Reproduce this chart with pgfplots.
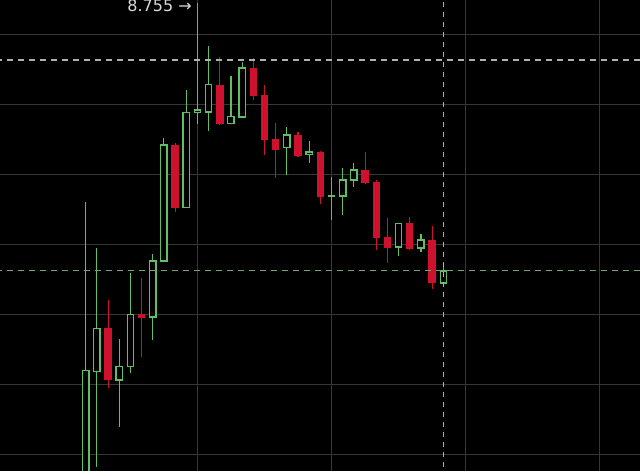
\documentclass[border=0pt]{standalone}
\usepackage{pgfplots}
\pgfplotsset{compat=1.18}
\usepackage{pgfplotstable}
\usepackage{fontspec}
\setmainfont{DejaVu Sans}

\definecolor{bull}{RGB}{98,190,100}
\definecolor{bear}{RGB}{206,18,46}
\definecolor{gridgray}{RGB}{54,54,54}
\definecolor{crossgray}{RGB}{175,175,175}
\definecolor{lastgreen}{RGB}{112,165,112}

% rising candles: index, open, high, low, close
\pgfplotstableread{
i  o     h     l     c
0  8.050 8.472 8.040 8.231
1  8.229 8.406 8.093 8.291
3  8.217 8.276 8.150 8.236
4  8.236 8.370 8.227 8.311
6  8.307 8.397 8.274 8.387
7  8.387 8.563 8.386 8.553
9  8.464 8.631 8.463 8.599
10 8.599 8.755 8.583 8.603
11 8.600 8.694 8.573 8.639
13 8.584 8.651 8.583 8.594
14 8.593 8.671 8.591 8.663
18 8.549 8.579 8.510 8.567
20 8.539 8.559 8.527 8.543
22 8.479 8.507 8.446 8.480
23 8.480 8.520 8.453 8.503
24 8.503 8.527 8.493 8.517
28 8.407 8.441 8.394 8.441
30 8.406 8.426 8.400 8.417
32 8.356 8.379 8.356 8.373
}\bulltab

% falling candles: index, open, high, low, close
\pgfplotstableread{
i  o     h     l     c
2  8.291 8.331 8.206 8.217
5  8.311 8.363 8.250 8.306
8  8.553 8.556 8.457 8.463
12 8.639 8.679 8.581 8.583
15 8.663 8.677 8.617 8.623
16 8.624 8.639 8.539 8.560
17 8.561 8.584 8.506 8.546
19 8.567 8.571 8.536 8.537
21 8.543 8.544 8.469 8.479
25 8.517 8.543 8.497 8.499
26 8.500 8.503 8.403 8.420
27 8.421 8.449 8.384 8.406
29 8.441 8.450 8.403 8.404
31 8.417 8.437 8.347 8.356
}\beartab

\pgfplotsset{
  candlebar/.style 2 args={draw=none, mark=none,
    error bars/.cd, y dir=both, y explicit, error mark=none,
    error bar style={draw=#1, line width=#2}},
}

\begin{document}
\begin{tikzpicture}
\begin{axis}[name=chart,
  scale only axis, width=640pt, height=471pt,
  xmin=-7.669, xmax=49.60, ymin=8.0871, ymax=8.76,
  axis background/.style={fill=black},
  axis line style={draw=none}, tick style={draw=none},
  xtick={10,22,34,46},
  ytick={8.11,8.21,8.31,8.41,8.51,8.61,8.71},
  xticklabels={}, yticklabels={},
  grid=major, major grid style={draw=gridgray, line width=1pt},
]
% wicks
\addplot[candlebar={bull}{1.1pt}] table[x=i,
  y expr=(\thisrow{h}+\thisrow{l})/2,
  y error expr=(\thisrow{h}-\thisrow{l})/2] {\bulltab};
\addplot[candlebar={bear}{1.1pt}] table[x=i,
  y expr=(\thisrow{h}+\thisrow{l})/2,
  y error expr=(\thisrow{h}-\thisrow{l})/2] {\beartab};
% hollow rising bodies: green frame, black inside
\addplot[candlebar={bull}{7.6pt}] table[x=i,
  y expr=(\thisrow{o}+\thisrow{c})/2,
  y error expr=(\thisrow{c}-\thisrow{o})/2+0.00095] {\bulltab};
\addplot[candlebar={black}{5pt}] table[x=i,
  y expr=(\thisrow{o}+\thisrow{c})/2,
  y error expr={max((\thisrow{c}-\thisrow{o})/2-0.00095,0)}] {\bulltab};
% filled falling bodies
\addplot[candlebar={bear}{7.4pt}] table[x=i,
  y expr=(\thisrow{o}+\thisrow{c})/2,
  y error expr={max((\thisrow{o}-\thisrow{c})/2,0.0008)}] {\beartab};
% crosshair and last price
\addplot[crossgray, line width=1.1pt, dash pattern=on 6pt off 5pt]
  coordinates {(-8,8.6743) (50,8.6743)};
\addplot[crossgray, line width=1.1pt, dash pattern=on 5pt off 5pt]
  coordinates {(32,8.05) (32,8.80)};
\addplot[lastgreen, line width=1.1pt, dash pattern=on 6pt off 5pt]
  coordinates {(-8,8.373) (50,8.373)};
% highest price marker
\node[anchor=base east, inner sep=0pt, text=white!85!black,
  font=\fontsize{16}{18}\selectfont, xshift=-5.5pt, yshift=-8.5pt]
  at (axis cs:10,8.755) {8.755 →};
\end{axis}
\pgfresetboundingbox
\path (chart.south west) rectangle (chart.north east);
\end{tikzpicture}
\end{document}
